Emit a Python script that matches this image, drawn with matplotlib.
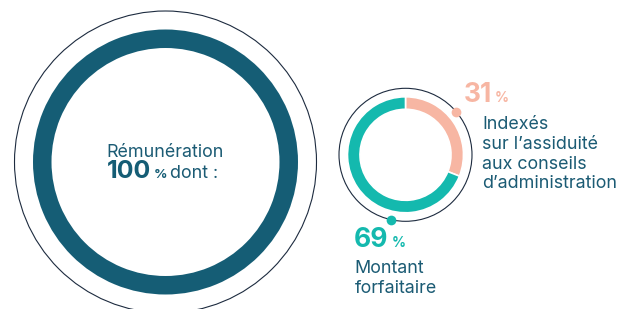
import matplotlib
matplotlib.use("Agg")
import matplotlib.pyplot as plt
from matplotlib.patches import Circle
import numpy as np

# ---- data ----
total_value = [100]
total_label = "Rémunération"
total_suffix = "dont :"
shares = [31, 69]
share_labels = [["Indexés", "sur l’assiduité", "aux conseils", "d’administration"],
                ["Montant", "forfaitaire"]]

# ---- style ----
W, H = 634, 309
DARK = "#155d75"
TEXT = "#1b5b74"
TEAL = "#14b9ae"
SALMON = "#f7b6a3"
LINE = "#1d2b3f"
FONT = "Inter"
FS = 12.9

fig = plt.figure(figsize=(W / 100, H / 100), dpi=100)
ax = fig.add_axes([0, 0, 1, 1])
ax.set_xlim(0, W)
ax.set_ylim(0, H)
ax.set_aspect("equal")
ax.axis("off")

def Y(y):
    return H - y

# big ring
bc = (165.5, Y(162))
ax.pie(total_value, colors=[DARK], radius=132.5, center=bc, startangle=90,
       wedgeprops=dict(width=18.5, linewidth=0), frame=True)
ax.add_patch(Circle(bc, 151, fill=False, ec=LINE, lw=0.8))

# small donut
sc = (405.5, Y(154.8))
ax.pie(shares, colors=[SALMON, TEAL], radius=58, center=sc, startangle=90,
       counterclock=False, wedgeprops=dict(width=12.5, linewidth=1.2, edgecolor="white"),
       frame=True)
ax.add_patch(Circle(sc, 66.5, fill=False, ec=LINE, lw=0.8))

# reset limits after pie
ax.set_xlim(0, W)
ax.set_ylim(0, H)
ax.axis("off")

# dots on thin circle
for ang, col in [(40, SALMON), (-102.5, TEAL)]:
    a = np.deg2rad(ang)
    ax.plot(sc[0] + 66.5 * np.cos(a), sc[1] + 66.5 * np.sin(a), "o", ms=7,
            color=col, mec="none", zorder=5)

# center text
ax.text(bc[0], Y(157), total_label, ha="center", va="baseline", fontsize=FS,
        color=TEXT, family=FONT)
ax.text(107, Y(178), f"{total_value[0]}", ha="left", va="baseline", fontsize=18,
        fontweight="bold", color=DARK, family=FONT)
ax.text(154, Y(178), "%", ha="left", va="baseline", fontsize=9.5,
        fontweight="bold", color=DARK, family=FONT)
ax.text(169.5, Y(178), total_suffix, ha="left", va="baseline", fontsize=FS,
        color=TEXT, family=FONT)

# 31 %
ax.text(464, Y(102), f"{shares[0]}", ha="left", va="baseline", fontsize=19,
        fontweight="bold", color=SALMON, family=FONT)
ax.text(495, Y(102), "%", ha="left", va="baseline", fontsize=10,
        fontweight="bold", color=SALMON, family=FONT)
for i, line in enumerate(share_labels[0]):
    ax.text(482.5, Y(129 + 19.8 * i), line, ha="left", va="baseline", fontsize=FS,
            color=TEXT, family=FONT)

# 69 %
ax.text(354, Y(247), f"{shares[1]}", ha="left", va="baseline", fontsize=19,
        fontweight="bold", color=TEAL, family=FONT)
ax.text(392, Y(247), "%", ha="left", va="baseline", fontsize=10,
        fontweight="bold", color=TEAL, family=FONT)
for i, line in enumerate(share_labels[1]):
    ax.text(354.5, Y(273 + 20 * i), line, ha="left", va="baseline", fontsize=FS,
            color=TEXT, family=FONT)

fig.savefig("out.png", dpi=100, facecolor="white")
